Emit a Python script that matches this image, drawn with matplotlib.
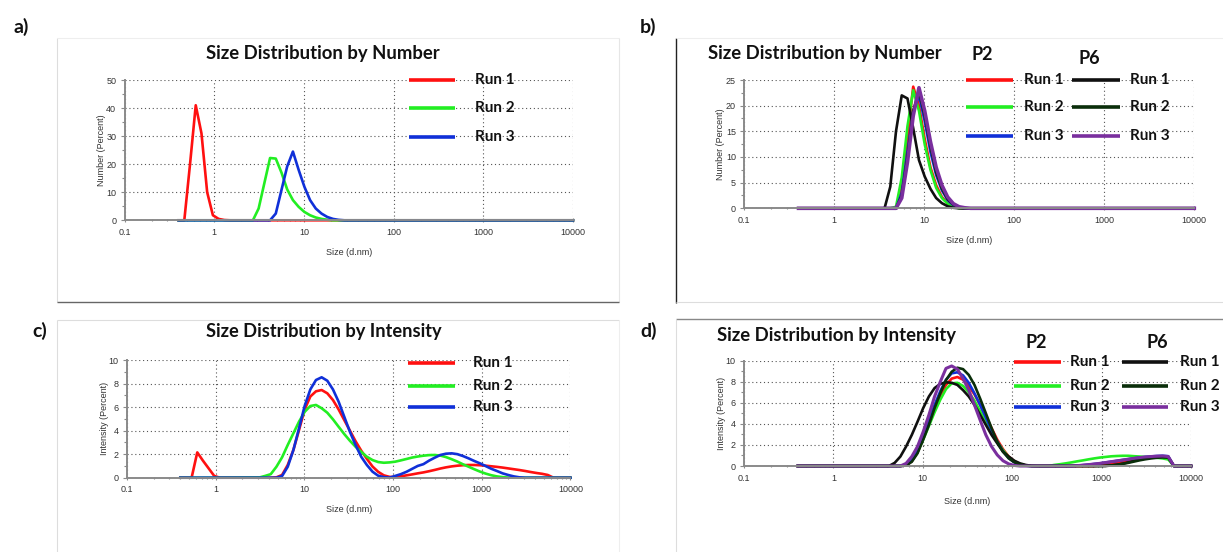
import matplotlib
matplotlib.use("Agg")
import matplotlib.pyplot as plt
from matplotlib.lines import Line2D
from matplotlib.ticker import LogLocator, NullFormatter, MultipleLocator

# ---------------- data (size in d.nm, value in percent) ----------------
XTICKS = [0.1, 1, 10, 100, 1000, 10000]
XTICK_LABELS = ["0.1", "1", "10", "100", "1000", "10000"]
RUN_LABELS = ["Run 1", "Run 2", "Run 3"]

# a) Number distribution
A_RUN1_X = [0.4, 0.4632, 0.5365, 0.6213, 0.7195, 0.8332, 0.9649, 1.117, 1.294, 1.499, 10000]
A_RUN1_Y = [0, 0, 20, 41, 31, 10, 1.8, 0.5, 0.1, 0, 0]
A_RUN2_X = [0.4, 2.696, 3.122, 3.615, 4.187, 4.849, 5.615, 6.503, 7.531, 8.721, 10.1, 11.7,
            13.54, 15.69, 18.17, 21.04, 10000]
A_RUN2_Y = [0, 0, 4.2, 13.2, 22.2, 22.0, 17, 11, 7.2, 4.8, 3.0, 1.8, 1.0, 0.5, 0.2, 0, 0]
A_RUN3_X = [0.4, 4.187, 4.849, 5.615, 6.503, 7.531, 8.721, 10.1, 11.7, 13.54, 15.69, 18.17,
            21.04, 24.36, 28.21, 10000]
A_RUN3_Y = [0, 0, 2.4, 10.8, 19.2, 24.5, 18, 12, 7.2, 4.2, 2.4, 1.2, 0.5, 0.15, 0, 0]

# b) Number distribution, P2 and P6
B_X = [0.4, 3.615, 4.187, 4.849, 5.615, 6.503, 7.531, 8.721, 10.1, 11.7, 13.54, 15.69, 18.17,
       21.04, 24.36, 28.21, 32.67, 10000]
B_P2_RUN1 = [0, 0, 0, 0, 4, 14, 23.7, 20, 13.5, 8, 4.5, 2.2, 1.0, 0.4, 0.1, 0, 0, 0]
B_P2_RUN2 = [0, 0, 0, 0.3, 6, 16, 23, 19, 12.5, 7.5, 4, 2, 0.9, 0.3, 0, 0, 0, 0]
B_P2_RUN3 = [0, 0, 0, 0, 3, 11, 19, 22, 17, 11, 6.5, 3.5, 1.6, 0.6, 0.2, 0, 0, 0]
B_P6_RUN1 = [0, 0, 4.2, 15.0, 22.0, 21.4, 15.6, 9.4, 6.2, 3.8, 2.0, 1.0, 0.4, 0.1, 0, 0, 0, 0]
B_P6_RUN2 = [0, 0, 0, 0, 2.5, 10, 19, 22.8, 18, 12, 7, 3.8, 1.8, 0.7, 0.2, 0, 0, 0]
B_P6_RUN3 = [0, 0, 0, 0, 2, 9, 18, 23.5, 19, 13, 8, 4.5, 2.2, 0.9, 0.3, 0.1, 0, 0]

# c) Intensity distribution
C_X = [0.4, 0.5365, 0.6213, 0.7195, 0.8332, 0.9649, 1.117, 3.122, 3.615, 4.187, 4.849, 5.615,
       6.503, 7.531, 8.721, 10.1, 11.7, 13.54, 15.69, 18.17, 21.04, 24.36, 28.21, 32.67,
       37.84, 43.82, 50.75, 58.77, 68.06, 78.82, 91.28, 105.7, 122.4, 141.8, 164.2, 190.1,
       220.2, 255.0, 295.3, 342.0, 396.1, 458.7, 531.2, 615.1, 712.4, 825.0, 955.4, 1106,
       1281, 1484, 1718, 1990, 2305, 2669, 3091, 3580, 4145, 4801, 5560, 6439, 10000]
C_RUN1 = [0, 0, 2.15, 1.45, 0.8, 0.15, 0, 0, 0, 0, 0.03, 0.23, 1.08, 2.35, 4.05, 5.8, 6.9,
          7.34, 7.45, 7.17, 6.6, 5.8, 4.9, 4.0, 3.1, 2.3, 1.6, 0.95, 0.5, 0.2, 0.07, 0.05,
          0.12, 0.2, 0.28, 0.37, 0.45, 0.55, 0.66, 0.78, 0.88, 0.96, 1.02, 1.06, 1.08, 1.08,
          1.06, 1.02, 0.97, 0.92, 0.86, 0.79, 0.72, 0.65, 0.57, 0.48, 0.4, 0.33, 0.23, 0, 0]
C_RUN2 = [0, 0, 0, 0, 0, 0, 0, 0.02, 0.15, 0.3, 0.93, 1.73, 2.78, 3.77, 4.76, 5.6, 6.09, 6.18,
          5.9, 5.52, 4.96, 4.33, 3.71, 3.14, 2.63, 2.2, 1.78, 1.5, 1.33, 1.27, 1.3, 1.36, 1.47,
          1.59, 1.71, 1.8, 1.87, 1.92, 1.93, 1.88, 1.75, 1.57, 1.37, 1.14, 0.93, 0.72, 0.52,
          0.35, 0.21, 0.11, 0.05, 0.01, 0, 0, 0, 0, 0, 0, 0, 0, 0]
C_RUN3 = [0, 0, 0, 0, 0, 0, 0, 0, 0, 0, 0, 0.14, 0.93, 2.35, 4.2, 6.1, 7.5, 8.3, 8.53, 8.24,
          7.5, 6.46, 5.18, 3.9, 2.78, 1.78, 1.08, 0.51, 0.17, 0.05, 0, 0.15, 0.3, 0.5, 0.75,
          1.0, 1.15, 1.45, 1.7, 1.93, 2.04, 2.07, 2.0, 1.84, 1.64, 1.42, 1.22, 0.99, 0.76,
          0.57, 0.37, 0.23, 0.11, 0.03, 0, 0, 0, 0, 0, 0, 0]

# d) Intensity distribution, P2 and P6
D_X = [0.4, 4.187, 4.849, 5.615, 6.503, 7.531, 8.721, 10.1, 11.7, 13.54, 15.69, 18.17, 21.04,
       24.36, 28.21, 32.67, 37.84, 43.82, 50.75, 58.77, 68.06, 78.82, 91.28, 105.7, 122.4,
       141.8, 164.2, 190.1, 255.0, 295.3, 342.0, 396.1, 458.7, 531.2, 615.1, 712.4, 825.0,
       955.4, 1106, 1281, 1484, 1718, 1990, 2305, 2669, 3091, 3580, 4145, 4801, 5560, 6439,
       10000]
D_P2_RUN1 = [0, 0, 0, 0, 0.05, 0.45, 1.3, 2.6, 4.0, 5.4, 6.7, 7.7, 8.3, 8.45, 8.2, 7.6, 6.8,
             5.8, 4.7, 3.6, 2.5, 1.6, 0.9, 0.45, 0.18, 0.05, 0, 0, 0, 0, 0, 0, 0, 0, 0, 0,
             0, 0.05, 0.12, 0.2, 0.28, 0.37, 0.46, 0.56, 0.65, 0.73, 0.8, 0.85, 0.88, 0.85, 0, 0]
D_P2_RUN2 = [0, 0, 0, 0, 0.1, 0.5, 1.3, 2.5, 3.8, 5.1, 6.3, 7.3, 7.85, 7.9, 7.6, 7.0, 6.2, 5.2,
             4.2, 3.2, 2.3, 1.5, 0.85, 0.4, 0.15, 0.03, 0, 0, 0, 0.1, 0.17, 0.25, 0.34, 0.44,
             0.53, 0.63, 0.72, 0.8, 0.86, 0.92, 0.95, 0.97, 0.97, 0.93, 0.9, 0.86, 0.82, 0.78,
             0.72, 0.62, 0, 0]
D_P2_RUN3 = [0, 0, 0, 0, 0.05, 0.5, 1.4, 2.8, 4.3, 5.8, 7.1, 8.2, 8.8, 8.9, 8.6, 7.9, 6.9,
             5.8, 4.6, 3.4, 2.3, 1.4, 0.75, 0.35, 0.12, 0.03, 0, 0, 0, 0, 0, 0, 0, 0.03, 0.08,
             0.13, 0.19, 0.25, 0.33, 0.41, 0.49, 0.57, 0.65, 0.73, 0.8, 0.86, 0.91, 0.95, 0.97,
             0.93, 0, 0]
D_P6_RUN1 = [0, 0, 0.3, 0.9, 1.85, 2.95, 4.2, 5.5, 6.6, 7.4, 7.8, 7.95, 7.9, 7.7, 7.2, 6.6,
             5.8, 4.85, 3.9, 2.95, 2.15, 1.36, 0.9, 0.5, 0.25, 0.1, 0.02, 0, 0, 0, 0, 0, 0, 0,
             0, 0, 0, 0, 0, 0.05, 0.12, 0.22, 0.35, 0.5, 0.63, 0.73, 0.8, 0.85, 0.87, 0.83, 0, 0]
D_P6_RUN2 = [0, 0, 0, 0, 0.05, 0.4, 1.2, 2.5, 3.9, 5.5, 6.9, 8.15, 8.95, 9.33, 9.2, 8.65, 7.7,
             6.4, 5.0, 3.6, 2.3, 1.36, 0.73, 0.35, 0.15, 0.05, 0, 0, 0, 0, 0, 0, 0, 0, 0, 0,
             0, 0, 0.02, 0.06, 0.12, 0.2, 0.3, 0.42, 0.54, 0.64, 0.72, 0.78, 0.82, 0.8, 0, 0]
D_P6_RUN3 = [0, 0, 0, 0, 0.25, 0.9, 1.85, 3.25, 4.85, 6.6, 8.0, 9.27, 9.5, 9.2, 8.3, 7.2, 5.8,
             4.35, 2.95, 1.85, 1.05, 0.5, 0.2, 0.05, 0, 0, 0, 0, 0, 0, 0, 0, 0, 0.03, 0.08,
             0.13, 0.19, 0.25, 0.33, 0.41, 0.49, 0.57, 0.65, 0.73, 0.8, 0.86, 0.9, 0.93, 0.95,
             0.9, 0, 0]

# ---------------- styling ----------------
RED, GREEN, BLUE = "#ff1010", "#22ee22", "#1030d8"
BLACK, DKGREEN, PURPLE = "#101010", "#0a2e0a", "#7a2f9e"
TICK_FONT = "Liberation Sans"
BOLD_FONT = "Lato"
W, H = 1223, 552

fig = plt.figure(figsize=(W / 100, H / 100), dpi=100)
fig.patch.set_facecolor("white")
renderer = fig.canvas.get_renderer()


def fx(x):
    return x / W


def fy(y):
    return 1 - y / H


def fline(xs, ys, color, lw):
    fig.add_artist(Line2D([fx(v) for v in xs], [fy(v) for v in ys], color=color, lw=lw,
                          solid_capstyle="butt"))


def ftext(x, y, s, size, ha="left", va="center", target_w=None):
    t = fig.text(fx(x), fy(y), s, ha=ha, va=va, fontsize=size, fontweight="bold",
                 family=BOLD_FONT, color="#111111")
    if target_w is not None:
        w = t.get_window_extent(renderer=renderer).width
        t.set_fontsize(size * target_w / w)
    return t


def make_axes(x_lo, x_hi, y_top, y_bot, ymax, ystep, yminor, ylabel, xpad=8, ypad=0):
    ax = fig.add_axes([fx(x_lo), fy(y_bot), (x_hi - x_lo) / W, (y_bot - y_top) / H])
    ax.set_xscale("log")
    ax.set_xlim(0.1, 10000)
    ax.set_ylim(0, ymax)
    ax.patch.set_alpha(0)
    for s in ["top", "right"]:
        ax.spines[s].set_visible(False)
    for s in ["left", "bottom"]:
        ax.spines[s].set_color("#8a8a8a")
        ax.spines[s].set_linewidth(1.4)
    ax.set_xticks(XTICKS)
    ax.set_xticklabels(XTICK_LABELS)
    ax.xaxis.set_minor_locator(LogLocator(base=10, subs=range(2, 10), numticks=20))
    ax.xaxis.set_minor_formatter(NullFormatter())
    ax.yaxis.set_major_locator(MultipleLocator(ystep))
    ax.yaxis.set_minor_locator(MultipleLocator(yminor))
    ax.tick_params(which="major", length=3, width=0.8, color="#8a8a8a", labelsize=6.5,
                   labelcolor="#333333", pad=3)
    ax.tick_params(axis="x", which="major", pad=4)
    ax.tick_params(which="minor", length=2, width=0.8, color="#8a8a8a")
    ax.tick_params(axis="x", which="both", direction="inout")
    for lab in ax.get_xticklabels() + ax.get_yticklabels():
        lab.set_family(TICK_FONT)
    ax.grid(True, which="major", linestyle=(0, (1, 2.5)), color="#555555", lw=0.8)
    ax.set_axisbelow(True)
    ax.set_xlabel("Size (d.nm)", family=TICK_FONT, fontsize=6.5, color="#333333", labelpad=xpad)
    ax.set_ylabel(ylabel, family=TICK_FONT, fontsize=6.5, color="#333333", labelpad=ypad)
    return ax


# ---------------- panel frames ----------------
fline([57, 57], [38, 302], "#dddddd", 0.8)
fline([57, 619], [38, 38], "#eeeeee", 0.8)
fline([619, 619], [38, 302], "#e6e6e6", 0.8)
fline([57, 619], [302, 302], "#666666", 1.0)
fline([676, 676], [38, 303], "#222222", 1.0)
fline([676, 1223], [38, 38], "#eeeeee", 0.8)
fline([676, 1223], [302, 302], "#dddddd", 0.8)
fline([57, 619], [320, 320], "#dddddd", 0.8)
fline([57, 57], [320, 552], "#dddddd", 0.8)
fline([619, 619], [320, 552], "#eeeeee", 0.8)
fline([676, 1223], [319, 319], "#888888", 1.0)
fline([676, 676], [319, 552], "#dddddd", 0.8)

# panel letters
ftext(21, 27, "a)", 14, ha="center")
ftext(648, 27, "b)", 14, ha="center")
ftext(40, 331, "c)", 14, ha="center")
ftext(649, 331, "d)", 14, ha="center")

# ---------------- a) ----------------
ax = make_axes(124.6, 573, 80, 220.3, 50, 10, 5, "Number (Percent)", xpad=8, ypad=0)
for xs, ys, c in [(A_RUN1_X, A_RUN1_Y, RED), (A_RUN2_X, A_RUN2_Y, GREEN), (A_RUN3_X, A_RUN3_Y, BLUE)]:
    ax.plot(xs, ys, color=c, lw=1.9, clip_on=False)
ftext(206, 53, "Size Distribution by Number", 12.5, target_w=234)
for (yy, c, lab) in zip([80, 108, 137], [RED, GREEN, BLUE], RUN_LABELS):
    fline([409, 455], [yy, yy], c, 2.6)
    ftext(475, yy, lab, 11)

# ---------------- b) ----------------
ax = make_axes(744.3, 1194.3, 80, 208.3, 25, 5, 2.5, "Number (Percent)", xpad=8, ypad=1)
for ys, c, lw in [(B_P2_RUN1, RED, 1.9), (B_P2_RUN2, GREEN, 1.9), (B_P2_RUN3, BLUE, 1.9),
                  (B_P6_RUN1, BLACK, 1.9), (B_P6_RUN2, DKGREEN, 1.9), (B_P6_RUN3, PURPLE, 2.6)]:
    ax.plot(B_X, ys, color=c, lw=lw, clip_on=False)
ftext(707.5, 53, "Size Distribution by Number", 12.5, target_w=234)
ftext(982, 55, "P2", 13, ha="center")
ftext(1089, 59, "P6", 13, ha="center")
for (yy, c1, c2, lab) in zip([79.5, 107, 136], [RED, GREEN, BLUE], [BLACK, DKGREEN, PURPLE], RUN_LABELS):
    fline([966, 1013], [yy, yy], c1, 2.6)
    ftext(1024, yy, lab, 11)
    fline([1072, 1120], [yy, yy], c2, 2.6)
    ftext(1130, yy, lab, 11)

# ---------------- c) ----------------
ax = make_axes(126.9, 570.4, 360, 477.7, 10, 2, 1, "Intensity (Percent)", xpad=8, ypad=0)
for ys, c in [(C_RUN1, RED), (C_RUN2, GREEN), (C_RUN3, BLUE)]:
    ax.plot(C_X, ys, color=c, lw=1.9, clip_on=False)
ftext(206.4, 332, "Size Distribution by Intensity", 12.5, target_w=236)
for (yy, c, lab) in zip([362.7, 386, 407.3], [RED, GREEN, BLUE], RUN_LABELS):
    fline([408, 455], [yy, yy], c, 2.6)
    ftext(473, yy, lab, 11)

# ---------------- d) ----------------
ax = make_axes(744, 1191, 360.7, 466, 10, 2, 1, "Intensity (Percent)", xpad=10, ypad=0)
for ys, c, lw in [(D_P2_RUN1, RED, 1.9), (D_P2_RUN2, GREEN, 1.9), (D_P2_RUN3, BLUE, 1.9),
                  (D_P6_RUN1, BLACK, 1.9), (D_P6_RUN2, DKGREEN, 1.9), (D_P6_RUN3, PURPLE, 2.2)]:
    ax.plot(D_X, ys, color=c, lw=lw, clip_on=False)
ftext(716.6, 336, "Size Distribution by Intensity", 12.5, target_w=239)
ftext(1036, 342, "P2", 13, ha="center")
ftext(1157, 342, "P6", 13, ha="center")
for (yy, c1, c2, lab) in zip([361.7, 385.7, 407.3], [RED, GREEN, BLUE], [BLACK, DKGREEN, PURPLE], RUN_LABELS):
    fline([1014, 1061], [yy, yy], c1, 2.6)
    ftext(1070, yy, lab, 11)
    fline([1122, 1168], [yy, yy], c2, 2.6)
    ftext(1180, yy, lab, 11)

fig.savefig("out.png", dpi=100, facecolor="white")
